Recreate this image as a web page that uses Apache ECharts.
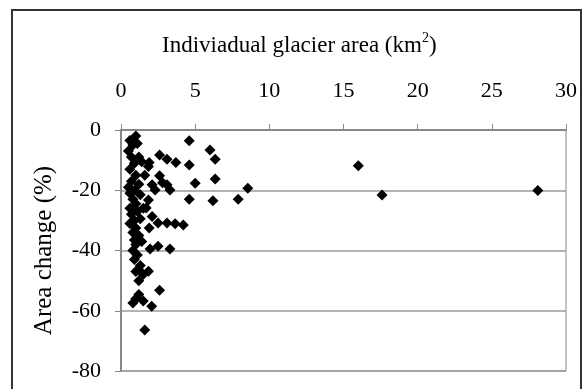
<!DOCTYPE html>
<html>
<head>
<meta charset="utf-8">
<script src="https://cdn.jsdelivr.net/npm/echarts@6/dist/echarts.min.js"></script>
<style>
  html, body { margin: 0; padding: 0; background: #fff; }
  #chart { width: 583px; height: 389px; }
</style>
</head>
<body>
<div id="chart"></div>
<script>
// glacier area (km2) and area change (%)
const areaKm2 = [
  1.0, 0.6, 0.8, 1.1, 0.5, 0.7, 1.2, 0.9, 1.4, 0.6, 1.0, 0.7, 1.2, 0.5, 0.9, 0.6, 1.3, 0.8, 1.0, 0.6,
  1.1, 0.7, 0.9, 1.3, 0.6, 1.0, 0.8, 1.2, 0.9, 1.0, 0.8, 1.1, 0.9, 1.3, 1.0, 1.5, 1.2, 1.2, 0.8, 1.5,
  1.0, 1.9, 2.6, 3.1, 3.7, 4.6, 6.0, 6.35, 4.6, 2.6, 6.35, 5.0, 2.1, 2.3, 3.1, 3.3, 4.6, 6.2, 7.9, 8.55,
  1.85, 1.7, 2.1, 2.5, 3.1, 3.65, 4.2, 1.9, 1.85, 16.0, 17.6, 28.1, 1.96, 2.5, 3.3, 1.85, 1.3, 2.6, 2.07, 1.6,
  1.6, 2.8, 1.5, 1.4
];
const areaChange = [
  -2, -3.5, -5, -4.5, -7, -9, -9, -11, -10.5, -13, -15, -17, -18, -19, -20, -21, -21.5, -23, -24.5, -26,
  -27, -28, -30, -29.5, -31, -32.5, -34, -35, -36.5, -38, -40, -41.5, -43, -45, -47, -48, -50, -54.6, -57.4, -56.8,
  -56, -10.8, -8.3, -9.7, -10.8, -3.6, -6.6, -9.7, -11.6, -15.2, -16.3, -17.7, -18.2, -19.9, -18.2, -19.9, -23, -23.5, -23, -19.3,
  -23.2, -25.9, -28.7, -30.9, -30.9, -31.1, -31.5, -32.5, -12.1, -11.9, -21.6, -20.1, -39.5, -38.6, -39.5, -46.9, -46.9, -53.2, -58.5, -66.4,
  -15, -17.5, -26, -37
];
const xTicks = [0, 5, 10, 15, 20, 25, 30];
const yTicks = [0, -20, -40, -60, -80];

const points = areaKm2.map((x, i) => [x, areaChange[i]]);

const chart = echarts.init(document.getElementById('chart'));
const serif = '"Liberation Serif", "DejaVu Serif", serif';

chart.setOption({
  animation: false,
  textStyle: { fontFamily: serif },
  graphic: [{
    type: 'rect',
    shape: { x: 12, y: 10, width: 569, height: 390 },
    style: { fill: 'none', stroke: '#333', lineWidth: 2 }
  }, {
    type: 'text',
    left: 162,
    top: 31,
    style: {
      text: '{a|Indiviadual glacier area (km}{s|2}{a|)}',
      rich: {
        a: { fontSize: 23, fontFamily: serif, fill: '#000', verticalAlign: 'bottom' },
        s: { fontSize: 14, fontFamily: serif, fill: '#000', verticalAlign: 'top', padding: [0, 0, 12, 0] }
      }
    }
  }],
  grid: {
    left: 121, top: 130, right: 17, bottom: 18,
    show: true, borderColor: '#888', borderWidth: 1
  },
  xAxis: {
    type: 'value',
    position: 'top',
    min: xTicks[0], max: xTicks[xTicks.length - 1], interval: 5,
    axisLine: { show: true, lineStyle: { color: '#888', width: 2 } },
    axisTick: { show: true, length: 6, lineStyle: { color: '#888' } },
    axisLabel: { color: '#000', fontSize: 22, margin: 28, fontFamily: serif },
    splitLine: { show: false }
  },
  yAxis: {
    type: 'value',
    min: yTicks[yTicks.length - 1], max: yTicks[0], interval: 20,
    name: 'Area change (%)',
    nameLocation: 'middle',
    nameGap: 64,
    nameTextStyle: { color: '#000', fontSize: 25, fontFamily: serif },
    axisLine: { show: true, lineStyle: { color: '#888', width: 2 } },
    axisTick: { show: true, length: 6, lineStyle: { color: '#888' } },
    axisLabel: { color: '#000', fontSize: 22, margin: 20, fontFamily: serif },
    splitLine: { show: true, lineStyle: { color: '#999', width: 1.5 } }
  },
  series: [{
    type: 'scatter',
    symbol: 'diamond',
    symbolSize: 11,
    itemStyle: { color: '#000', opacity: 1 },
    data: points
  }]
});
</script>
</body>
</html>
